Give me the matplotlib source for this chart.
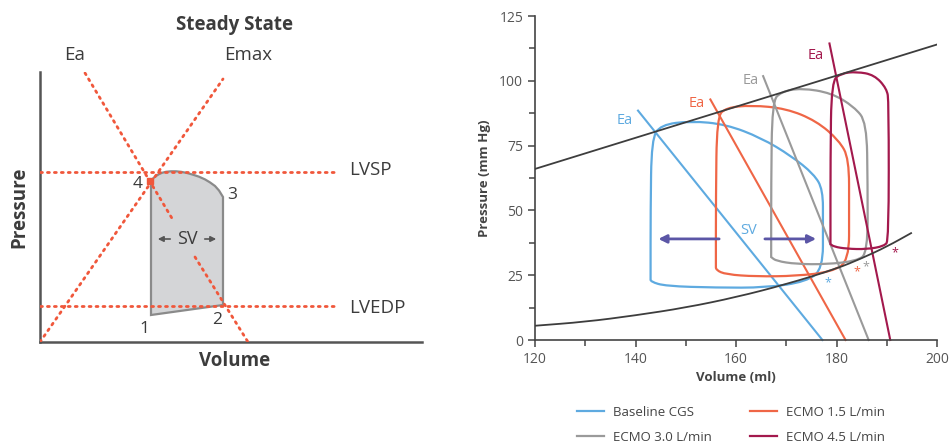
import numpy as np
import matplotlib.pyplot as plt
from matplotlib.patches import Polygon, PathPatch
from matplotlib.path import Path
from matplotlib.ticker import MultipleLocator

plt.rcParams['font.family'] = ['Open Sans', 'DejaVu Sans']

# ---------------- left panel: schematic (arbitrary units) ----------------
emax_v = [0, 183]
emax_p = [0, 263]
ea_v = [45, 133, 155, 208]          # drawn as two pieces, gap around "SV"
ea_p = [269, 122, 85, 0]
lvsp = 170
lvedp = 36
line_end = 297
loop_v = [111, 112, 113.5, 116, 119, 122, 126, 131, 136, 141, 147, 153, 159, 165, 170, 175, 179,
          183, 183, 111]
loop_p = [160, 162, 164, 166, 167.8, 169.2, 170.2, 170.7, 170.7, 170.2, 169, 167.3, 165.3, 162.6,
          159.6, 156, 151.5, 145, 37, 27]
corner_lbl = ['1', '2', '3', '4']
corner_v = [104, 177, 192, 98]
corner_p = [13, 22, 147, 158]

# ---------------- right panel: PV loops ----------------
espvr_v = [120, 200]
espvr_p = [66, 114]
edpvr_v = [120, 130, 140, 150, 160, 170, 180, 185, 190, 195]
edpvr_p = [5.5, 7, 9.5, 12.5, 16.5, 21.5, 27.5, 31.5, 36, 41.4]

names = ['Baseline CGS', 'ECMO 1.5 L/min', 'ECMO 3.0 L/min', 'ECMO 4.5 L/min']
colors = ['#5eaae0', '#ef6646', '#9a9a9a', '#a3194d']

# loop outlines (control points, traced clockwise from the bottom-left corner)
loops_v = [
    [143, 143, 143.2, 145, 151, 158, 165, 171, 175.5, 177.3, 177.3, 177.3,
     174, 166, 156, 146, 143, 143],
    [156, 156, 156.2, 158, 163, 170, 176, 180.5, 182.5, 182.5, 182.5,
     179, 172, 164, 158, 156, 156],
    [167, 167, 167.2, 169, 173, 179, 183.5, 186, 186.2, 186.2,
     184, 178, 172, 168, 167, 167],
    [178.8, 178.8, 179, 181, 184, 187.5, 190, 190.4, 190.4,
     189.5, 186, 182, 179.5, 178.8, 178.8],
]
loops_p = [
    [24, 50, 77.5, 83, 84.5, 83.2, 78, 71, 64, 58, 45, 27.5,
     22.5, 20.2, 20.2, 20.8, 22.5, 24],
    [29, 55, 86, 89.6, 90.6, 89.3, 84.5, 77, 70, 50, 30.5,
     26.3, 24.7, 24.5, 25.3, 27, 29],
    [32, 60, 92, 95.8, 97.2, 95.3, 90, 84, 60, 33.5,
     30.5, 29.2, 29.3, 30.5, 32, 32],
    [37, 70, 100, 102.9, 103.5, 102.3, 97, 92, 38.5,
     36.2, 35, 35.2, 36, 37, 37],
]
ea_line_v = [[140.5, 177.2], [154.9, 181.8], [165.4, 186.4], [178.6, 190.7]]
ea_line_p = [[88.5, 0], [92.8, 0], [101.8, 0], [114.4, 0]]
ea_lbl_v = [137.9, 152.2, 163.0, 175.8]
ea_lbl_p = [84.8, 91.3, 100.3, 109.9]
star_v = [178.2, 184.0, 185.9, 191.6]
star_p = [22.1, 26.3, 28.3, 33.8]
sv_arrow_v = [[157.2, 144.0], [165.2, 176.5]]
sv_arrow_p = 39

dot_red = '#f0573b'
txt = '#3c3c3c'


def smooth_path(xs, ys, closed=False):
    """quadratic bezier through the midpoints, using the given points as controls"""
    pts = np.column_stack([xs, ys]).astype(float)
    if closed:
        pts = np.vstack([pts, pts[:2]])
    mids = (pts[:-1] + pts[1:]) / 2
    verts = [pts[0] if not closed else mids[0]]
    codes = [Path.MOVETO]
    if not closed:
        verts.append(mids[0])
        codes.append(Path.LINETO)
    for k in range(1, len(pts) - 1):
        verts += [pts[k], mids[k]]
        codes += [Path.CURVE3, Path.CURVE3]
    if not closed:
        verts.append(pts[-1])
        codes.append(Path.LINETO)
    return Path(verts, codes)


fig = plt.figure(figsize=(9.52, 4.47), dpi=100)
W, H = 952, 447

# left schematic axes: pixel box x 40..422, y 72..342
axl = fig.add_axes([40 / W, 1 - 342 / H, 382 / W, 270 / H])
axl.set_xlim(0, 382)
axl.set_ylim(0, 270)
for s in ['top', 'right']:
    axl.spines[s].set_visible(False)
for s in ['left', 'bottom']:
    axl.spines[s].set_color('#555555')
    axl.spines[s].set_linewidth(1.8)
axl.set_xticks([])
axl.set_yticks([])
axl.patch.set_alpha(0)

dots = dict(color=dot_red, lw=2.0, linestyle=(0, (0.7, 1.8)), dash_capstyle='round', zorder=3)
axl.add_patch(Polygon(np.column_stack([loop_v, loop_p]), closed=True,
                      facecolor='#d4d5d7', edgecolor='#8a8a8a', lw=1.6, zorder=2))
axl.plot(emax_v, emax_p, **dots)
axl.plot(ea_v[:2], ea_p[:2], **dots)
axl.plot(ea_v[2:], ea_p[2:], **dots)
axl.plot([0, line_end], [lvsp, lvsp], **dots)
axl.plot([0, line_end], [lvedp, lvedp], **dots)
axl.plot(loop_v[0] - 1, loop_p[0] + 1, 's', color=dot_red, ms=4, zorder=4)

for lbl, v, p in zip(corner_lbl, corner_v, corner_p):
    axl.text(v, p, lbl, fontsize=12.5, color=txt, ha='center', va='center')
axl.text(line_end + 12, lvsp + 2, 'LVSP', fontsize=13.5, color=txt, va='center')
axl.text(line_end + 12, lvedp - 2, 'LVEDP', fontsize=13.5, color=txt, va='center')
axl.text(147, 103, 'SV', fontsize=13, color=txt, ha='center', va='center', zorder=5)
axl.annotate('', xy=(115, 103), xytext=(133, 103),
             arrowprops=dict(arrowstyle='-|>', color='#555555', lw=1.2, mutation_scale=8), zorder=5)
axl.annotate('', xy=(179, 103), xytext=(162, 103),
             arrowprops=dict(arrowstyle='-|>', color='#555555', lw=1.2, mutation_scale=8), zorder=5)

fig.text(235 / W, 1 - 25 / H, 'Steady State', fontsize=13.5, fontweight='bold', color=txt,
         ha='center', va='center')
fig.text(75 / W, 1 - 55 / H, 'Ea', fontsize=13.5, color=txt, ha='center', va='center')
fig.text(248 / W, 1 - 55 / H, 'Emax', fontsize=13.5, color=txt, ha='center', va='center')
fig.text(19 / W, 1 - 207 / H, 'Pressure', fontsize=13.5, fontweight='bold', color=txt,
         ha='center', va='center', rotation=90)
fig.text(235 / W, 1 - 361 / H, 'Volume', fontsize=13.5, fontweight='bold', color=txt,
         ha='center', va='center')

# right PV loop axes: pixel box x 535..937, y 16..340
axr = fig.add_axes([535 / W, 1 - 340 / H, 402 / W, 324 / H])
axr.set_xlim(120, 200)
axr.set_ylim(0, 125)
for s in ['top', 'right']:
    axr.spines[s].set_visible(False)
for s in ['left', 'bottom']:
    axr.spines[s].set_color('#444444')
    axr.spines[s].set_linewidth(1.2)
axr.xaxis.set_major_locator(MultipleLocator(20))
axr.xaxis.set_minor_locator(MultipleLocator(10))
axr.yaxis.set_major_locator(MultipleLocator(25))
axr.yaxis.set_minor_locator(MultipleLocator(12.5))
axr.tick_params(which='both', colors='#444444', labelcolor='#555555', labelsize=10, width=1.1)
axr.tick_params(which='major', length=5)
axr.tick_params(which='minor', length=4)
axr.set_xlabel('Volume (ml)', fontsize=9.5, fontweight='bold', color='#444444', labelpad=3)
axr.set_ylabel('Pressure (mm Hg)', fontsize=9.5, fontweight='bold', color='#444444', labelpad=6)
axr.patch.set_alpha(0)

axr.plot(espvr_v, espvr_p, color='#3d3d3d', lw=1.3, zorder=3)
axr.add_patch(PathPatch(smooth_path(edpvr_v, edpvr_p), fill=False, edgecolor='#3d3d3d',
                        lw=1.3, zorder=3))

for i in range(4):
    axr.add_patch(PathPatch(smooth_path(loops_v[i], loops_p[i], closed=True), fill=False,
                            edgecolor=colors[i], lw=1.6, zorder=2))
    axr.plot([], [], color=colors[i], lw=1.6, label=names[i])
    axr.plot(ea_line_v[i], ea_line_p[i], color=colors[i], lw=1.5, zorder=2, clip_on=False)
    axr.text(ea_lbl_v[i], ea_lbl_p[i], 'Ea', color=colors[i], fontsize=10.5, ha='center', va='center')
    axr.text(star_v[i], star_p[i], '*', color=colors[i], fontsize=9, ha='center', va='center')

for av in sv_arrow_v:
    axr.annotate('', xy=(av[1], sv_arrow_p), xytext=(av[0], sv_arrow_p),
                 arrowprops=dict(arrowstyle='-|>', color='#5b56a6', lw=2, mutation_scale=12), zorder=4)
axr.text(162.5, 42.4, 'SV', color=colors[0], fontsize=10.5, ha='center', va='center')

handles, labels = axr.get_legend_handles_labels()
order = [0, 2, 1, 3]
fig.legend([handles[k] for k in order], [labels[k] for k in order], ncol=2, frameon=False,
           fontsize=9.5, loc='center', bbox_to_anchor=(731 / W, 1 - 425 / H),
           handlelength=2.05, handletextpad=0.7, columnspacing=2.9, labelspacing=0.9,
           labelcolor='#444444')

fig.savefig('out.png', dpi=100)
